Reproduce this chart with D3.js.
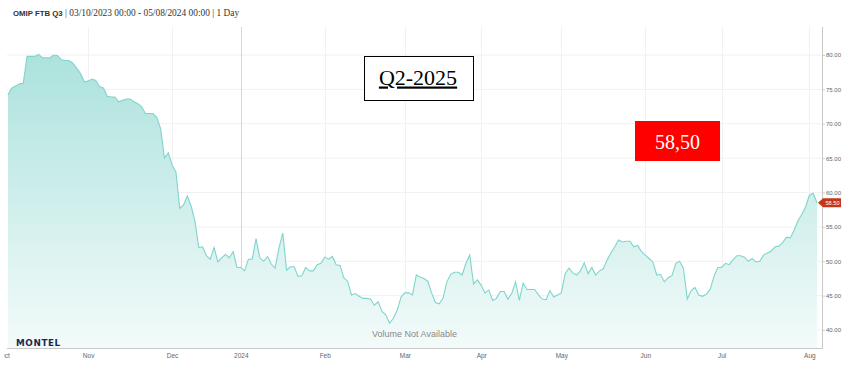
<!DOCTYPE html>
<html>
<head>
<meta charset="utf-8">
<script src="https://cdn.jsdelivr.net/npm/d3@7"></script>
<style>
  html, body { margin: 0; padding: 0; background: #fff; }
  svg { display: block; }
</style>
</head>
<body>
<svg id="chart" width="851" height="370"></svg>
<script>
// ---------------- DATA ----------------
const titleBold = "OMIP FTB Q3";
const titleRest = " | 03/10/2023 00:00 - 05/08/2024 00:00 | 1 Day";
const firstDate = "2023-10-03";
const lastDate = "2024-08-05";
const holidays = ["2023-12-08", "2023-12-25", "2023-12-26", "2024-01-01", "2024-03-29", "2024-04-01", "2024-05-01"];
const monthLabels = ["Oct", "Nov", "Dec", "2024", "Feb", "Mar", "Apr", "May", "Jun", "Jul", "Aug"];
const yTicks = [40, 45, 50, 55, 60, 65, 70, 75, 80];
const lastPrice = 58.50;
const annotationTitle = "Q2-2025";
const annotationPrice = "58,50";
const prices = [
  74.2, 75.2, 75.5, 75.8, 75.9, 79.8, 79.8, 79.8, 80.1, 79.6,
  79.6, 79.6, 80.0, 79.9, 79.3, 79.2, 79.2, 78.8, 78.1, 77.3,
  76.1, 76.2, 76.5, 76.3, 75.4, 75.2, 74.0, 73.9, 73.9, 73.2,
  73.4, 73.6, 73.6, 73.2, 72.9, 72.5, 71.5, 71.5, 71.5, 70.9,
  69.3, 65.0, 65.8, 64.0, 63.0, 57.7, 58.2, 59.5, 58.0, 55.8,
  52.0, 52.1, 50.8, 50.3, 52.0, 49.9, 50.5, 51.0, 50.5, 51.4,
  49.1, 49.1, 48.6, 50.3, 50.3, 53.3, 50.5, 50.0, 50.7, 49.6,
  49.0, 51.9, 54.1, 48.7, 49.2, 49.2, 47.8, 47.9, 49.1, 48.6,
  48.6, 49.5, 49.7, 50.6, 50.3, 50.7, 49.5, 49.4, 47.6, 47.1,
  45.1, 45.3, 44.9, 44.6, 44.6, 44.5, 43.6, 44.1, 42.7, 42.2,
  41.0, 41.7, 42.9, 44.8, 45.4, 45.4, 45.1, 48.0, 47.7, 47.5,
  47.1, 45.4, 44.0, 43.8, 44.6, 47.0, 48.1, 48.4, 48.4, 48.0,
  49.7, 50.9, 46.7, 47.3, 46.5, 45.4, 45.8, 44.3, 44.6, 45.6,
  45.6, 44.5, 45.3, 47.0, 44.3, 46.8, 45.9, 45.9, 45.9, 45.1,
  44.5, 44.4, 45.7, 44.8, 45.1, 45.4, 48.2, 49.0, 48.3, 48.0,
  48.6, 49.8, 48.2, 49.1, 48.0, 48.6, 48.9, 50.2, 51.2, 52.1,
  53.1, 52.8, 52.9, 52.9, 52.1, 52.3, 51.4, 50.9, 50.4, 49.9,
  48.0, 48.1, 47.0, 47.6, 47.9, 49.7, 50.0, 49.0, 44.5, 45.7,
  46.2, 45.1, 44.9, 45.2, 45.9, 47.8, 49.1, 49.1, 49.7, 49.5,
  50.2, 50.8, 50.8, 50.6, 50.0, 50.4, 49.9, 50.0, 50.9, 51.2,
  51.5, 52.1, 52.2, 52.7, 53.5, 53.4, 54.5, 55.9, 56.8, 57.9,
  59.6, 59.9, 58.5
];

// ---------------- TRADING CALENDAR ----------------
const parse = d3.timeParse("%Y-%m-%d");
const fmt = d3.timeFormat("%Y-%m-%d");
const holidaySet = new Set(holidays);
const calStart = d3.timeMonth.floor(parse(firstDate));
const calEnd = d3.timeDay.offset(parse(lastDate), 1);
const tradingDays = d3.timeDay.range(calStart, calEnd)
  .filter(d => d.getDay() !== 0 && d.getDay() !== 6 && !holidaySet.has(fmt(d)));
const startIdx = tradingDays.findIndex(d => fmt(d) === firstDate);
const data = prices.map((v, i) => ({ idx: startIdx + i, v }));
const monthStarts = d3.timeMonth.range(calStart, calEnd);
const tickIdx = monthStarts.map(m => tradingDays.findIndex(d => d >= m));

// ---------------- LAYOUT ----------------
const svg = d3.select("#chart");
const plot = { left: 7, right: 822, top: 27, bottom: 348 };

const x = d3.scaleLinear()
  .domain([startIdx, startIdx + prices.length - 1])
  .range([8, 817]);
const y = d3.scaleLinear().domain([40, 80]).range([330, 55]);

const defs = svg.append("defs");
const grad = defs.append("linearGradient")
  .attr("id", "areaGrad").attr("gradientUnits", "userSpaceOnUse")
  .attr("x1", 0).attr("y1", y(80)).attr("x2", 0).attr("y2", plot.bottom);
grad.append("stop").attr("offset", "0%").attr("stop-color", "#ace2dd");
grad.append("stop").attr("offset", "100%").attr("stop-color", "#f3fbfa");

defs.append("clipPath").attr("id", "plotClip")
  .append("rect").attr("x", plot.left).attr("y", plot.top)
  .attr("width", plot.right - plot.left).attr("height", plot.bottom - plot.top);
defs.append("clipPath").attr("id", "xLabClip")
  .append("rect").attr("x", 4).attr("y", plot.bottom)
  .attr("width", 847).attr("height", 22);

// Title
const title = svg.append("text").attr("x", 13).attr("y", 16)
  .attr("fill", "#333");
title.append("tspan").attr("font-family", "Liberation Sans, Arial, sans-serif")
  .attr("font-weight", "bold").attr("font-size", 7.8).text(titleBold);
title.append("tspan").attr("font-family", "Liberation Serif, serif")
  .attr("font-size", 9.4).text(titleRest);

// Horizontal grid
svg.append("g").selectAll("line").data(yTicks).join("line")
  .attr("x1", plot.left).attr("x2", plot.right)
  .attr("y1", d => y(d)).attr("y2", d => y(d))
  .attr("stroke", "#f1f1f1").attr("stroke-width", 1);

// Vertical grid
svg.append("g").selectAll("line").data(tickIdx.filter(t => x(t) >= plot.left)).join("line")
  .attr("x1", d => Math.round(x(d)) + 0.5).attr("x2", d => Math.round(x(d)) + 0.5)
  .attr("y1", plot.top).attr("y2", plot.bottom)
  .attr("stroke", d => monthLabels[tickIdx.indexOf(d)] === "2024" ? "#d6d6d6" : "#f1f1f1")
  .attr("stroke-width", 1);

// Area + line
const g = svg.append("g").attr("clip-path", "url(#plotClip)");
g.append("path").datum(data)
  .attr("d", d3.area().x(d => x(d.idx)).y0(plot.bottom).y1(d => y(d.v)))
  .attr("fill", "url(#areaGrad)");
g.append("path").datum(data)
  .attr("d", d3.line().x(d => x(d.idx)).y(d => y(d.v)))
  .attr("fill", "none").attr("stroke", "#7fd5cc").attr("stroke-width", 1.1);

// Montel logo and volume note
svg.append("text").attr("x", 16).attr("y", 345.5)
  .attr("font-family", "DejaVu Sans, sans-serif").attr("font-weight", "bold")
  .attr("font-size", 8.8).attr("letter-spacing", 0.6).attr("fill", "#1b2a4e")
  .text("MONTEL");
svg.append("text").attr("x", 414.5).attr("y", 337)
  .attr("text-anchor", "middle")
  .attr("font-family", "Liberation Sans, Arial, sans-serif")
  .attr("font-size", 9).attr("fill", "#8a8a8a")
  .text("Volume Not Available");

// Right axis
const yAxis = d3.axisRight(y).tickValues(yTicks).tickFormat(d3.format(".2f"))
  .tickSize(3).tickPadding(1);
const ya = svg.append("g").attr("transform", `translate(${plot.right},0)`).call(yAxis);
ya.select(".domain").remove();
ya.selectAll("line").attr("stroke", "#cfcfcf");
ya.selectAll("text").attr("font-family", "Liberation Sans, Arial, sans-serif")
  .attr("font-size", 6).attr("fill", "#666");
svg.append("line").attr("x1", plot.right + 0.5).attr("x2", plot.right + 0.5)
  .attr("y1", plot.top).attr("y2", plot.bottom).attr("stroke", "#c8c8c8");

// Bottom axis (clip applied on an untransformed wrapper)
const xWrap = svg.append("g").attr("clip-path", "url(#xLabClip)");
const xAxis = d3.axisBottom(x).tickValues(tickIdx)
  .tickFormat((d, i) => monthLabels[i]).tickSize(0).tickPadding(5);
const xa = xWrap.append("g").attr("transform", `translate(0,${plot.bottom})`).call(xAxis);
xa.select(".domain").remove();
xa.selectAll("text").attr("font-family", "Liberation Sans, Arial, sans-serif")
  .attr("font-size", 6.5).attr("fill", "#666");
svg.append("line").attr("x1", plot.left).attr("x2", plot.right + 1)
  .attr("y1", plot.bottom + 0.5).attr("y2", plot.bottom + 0.5).attr("stroke", "#c8c8c8");

// Last price tag
const ty = y(lastPrice);
svg.append("path")
  .attr("d", `M${plot.right - 4},${ty} L${plot.right + 1},${ty - 4.5} L${plot.right + 19},${ty - 4.5} L${plot.right + 19},${ty + 4.5} L${plot.right + 1},${ty + 4.5} Z`)
  .attr("fill", "#c6361b");
svg.append("text").attr("x", plot.right + 10.5).attr("y", ty + 2.1)
  .attr("text-anchor", "middle").attr("font-family", "Liberation Sans, Arial, sans-serif")
  .attr("font-size", 5.6).attr("fill", "#fff").text(d3.format(".2f")(lastPrice));

// Annotation boxes
svg.append("rect").attr("x", 364.5).attr("y", 56.5).attr("width", 109).attr("height", 44)
  .attr("fill", "#fff").attr("stroke", "#000").attr("stroke-width", 1);
svg.append("text").attr("x", 418).attr("y", 84.5).attr("text-anchor", "middle")
  .attr("font-family", "Liberation Serif, serif").attr("font-size", 22)
  .attr("fill", "#000").attr("text-decoration", "underline")
  .text(annotationTitle);

svg.append("rect").attr("x", 635).attr("y", 121).attr("width", 85).attr("height", 40)
  .attr("fill", "#ff0000");
svg.append("text").attr("x", 677.5).attr("y", 148.5).attr("text-anchor", "middle")
  .attr("font-family", "Liberation Serif, serif").attr("font-size", 20)
  .attr("fill", "#fff").text(annotationPrice);
</script>
</body>
</html>
